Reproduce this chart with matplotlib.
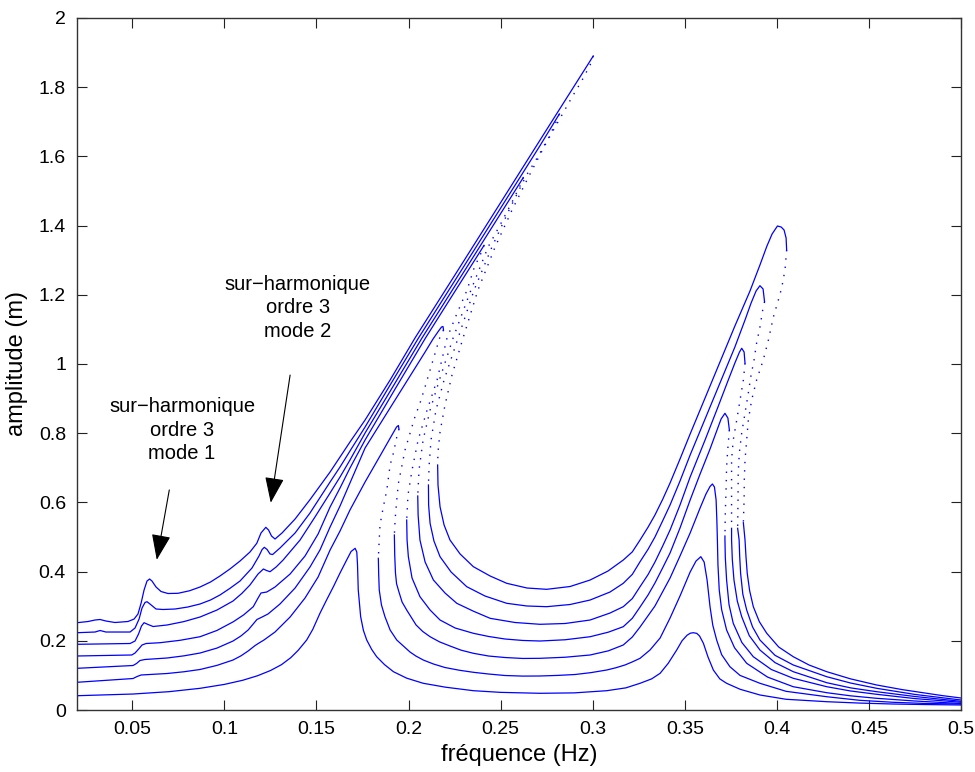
import numpy as np
import matplotlib
matplotlib.use("Agg")
import matplotlib.pyplot as plt

plt.rcParams["font.family"] = ["Liberation Sans", "DejaVu Sans"]

nan = np.nan

# axes
x_ticks = [0.05, 0.1, 0.15, 0.2, 0.25, 0.3, 0.35, 0.4, 0.45, 0.5]
x_tick_labels = ["0.05", "0.1", "0.15", "0.2", "0.25", "0.3", "0.35", "0.4", "0.45", "0.5"]
y_ticks = [0, 0.2, 0.4, 0.6, 0.8, 1.0, 1.2, 1.4, 1.6, 1.8, 2.0]
y_tick_labels = ["0", "0.2", "0.4", "0.6", "0.8", "1", "1.2", "1.4", "1.6", "1.8", "2"]

# courbe 1 (plus faible excitation) - entièrement stable
c1_f = [0.0200, 0.0504, 0.0700, 0.0868, 0.1000, 0.1100, 0.1180, 0.1250, 0.1310, 0.1360,
        0.1400, 0.1447, 0.1480, 0.1519, 0.1555, 0.1592, 0.1628, 0.1664, 0.1688, 0.1710,
        0.1719, 0.1723, 0.1727, 0.1740, 0.1755, 0.1773, 0.1800, 0.1827, 0.1870, 0.1918,
        0.1990, 0.2080, 0.2200, 0.2352, 0.2500, 0.2714, 0.2900, 0.3076, 0.3180, 0.3257,
        0.3320, 0.3366, 0.3410, 0.3456, 0.3485, 0.3512, 0.3530, 0.3546, 0.3565, 0.3580,
        0.3601, 0.3626, 0.3655, 0.3690, 0.3727, 0.3800, 0.3908, 0.4050, 0.4271, 0.4450,
        0.4632, 0.4800, 0.5000]
c1_a = [0.0413, 0.0462, 0.0530, 0.0627, 0.0740, 0.0860, 0.0990, 0.1140, 0.1310, 0.1510,
        0.1720, 0.2023, 0.2330, 0.2795, 0.3180, 0.3564, 0.3960, 0.4335, 0.4581, 0.4673,
        0.4566, 0.4191, 0.3468, 0.2697, 0.2300, 0.2023, 0.1750, 0.1540, 0.1310, 0.1107,
        0.0920, 0.0772, 0.0660, 0.0558, 0.0510, 0.0483, 0.0495, 0.0558, 0.0640, 0.0772,
        0.0900, 0.1061, 0.1350, 0.1734, 0.2000, 0.2160, 0.2220, 0.2234, 0.2215, 0.2140,
        0.1928, 0.1532, 0.1156, 0.0900, 0.0772, 0.0600, 0.0434, 0.0310, 0.0240, 0.0200,
        0.0173, 0.0158, 0.0145]

# courbe 2
c2_f = [0.0200, 0.0504, 0.0526, 0.0548, 0.0689, 0.0780, 0.0868, 0.0960, 0.1047, 0.1090,
        0.1129, 0.1167, 0.1188, 0.1215, 0.1275, 0.1357, 0.1438, 0.1509, 0.1574, 0.1628,
        0.1682, 0.1764, 0.1845, 0.1910, 0.1935, 0.1945, 0.1948, nan,
        0.1836, 0.1838, 0.1841, 0.1853, 0.1872, 0.1900, 0.1936, 0.2008, 0.2040, 0.2080,
        0.2135, 0.2198, 0.2275, 0.2352, 0.2435, 0.2524, 0.2620, 0.2714, 0.2810, 0.2904,
        0.2990, 0.3076, 0.3125, 0.3175, 0.3215, 0.3257, 0.3311, 0.3366, 0.3420, 0.3474,
        0.3529, 0.3561, 0.3587, 0.3605, 0.3621, 0.3637, 0.3652, 0.3673, 0.3700, 0.3745,
        0.3800, 0.3908, 0.4050, 0.4271, 0.4450, 0.4632, 0.4800, 0.5000]
c2_a = [0.0801, 0.0910, 0.0968, 0.1012, 0.1055, 0.1105, 0.1171, 0.1290, 0.1445, 0.1565,
        0.1705, 0.1864, 0.1936, 0.2023, 0.2254, 0.2688, 0.3237, 0.3844, 0.4624, 0.5173,
        0.5780, 0.6590, 0.7341, 0.7948, 0.8179, 0.8223, 0.8121, nan,
        0.4384, 0.3902, 0.3468, 0.3035, 0.2697, 0.2312, 0.2023, 0.1676, 0.1560, 0.1445,
        0.1330, 0.1228, 0.1150, 0.1090, 0.1040, 0.0997, 0.0980, 0.0983, 0.1000, 0.1026,
        0.1080, 0.1156, 0.1220, 0.1301, 0.1390, 0.1494, 0.1734, 0.2081, 0.2659, 0.3295,
        0.3988, 0.4306, 0.4431, 0.4277, 0.3757, 0.2986, 0.2450, 0.2023, 0.1600, 0.1251,
        0.1000, 0.0772, 0.0540, 0.0384, 0.0280, 0.0223, 0.0190, 0.0173]
c2_uf = [0.1948, 0.1936, 0.1918, 0.1900, 0.1882, 0.1863, 0.1845, 0.1840, 0.1836]
c2_ua = [0.8121, 0.7890, 0.7428, 0.7081, 0.6358, 0.5867, 0.5347, 0.4827, 0.4384]

# courbe 3
c3_f = [0.0200, 0.0504, 0.0523, 0.0542, 0.0569, 0.0689, 0.0780, 0.0868, 0.0960, 0.1047,
        0.1090, 0.1129, 0.1161, 0.1177, 0.1205, 0.1237, 0.1302, 0.1384, 0.1465, 0.1519,
        0.1574, 0.1628, 0.1682, 0.1764, 0.1954, 0.2090, 0.2133, 0.2163, 0.2179, 0.2187,
        0.2190, nan,
        0.1923, 0.1925, 0.1929, 0.1935, 0.1948, 0.1965, 0.1990, 0.2041, 0.2077, 0.2117,
        0.2168, 0.2225, 0.2285, 0.2352, 0.2435, 0.2524, 0.2620, 0.2714, 0.2850, 0.2986,
        0.3085, 0.3166, 0.3215, 0.3257, 0.3338, 0.3420, 0.3474, 0.3529, 0.3583, 0.3615,
        0.3637, 0.3650, 0.3661, 0.3670, 0.3674, 0.3677, 0.3680, 0.3687, 0.3700, 0.3727,
        0.3770, 0.3836, 0.3950, 0.4089, 0.4271, 0.4400, 0.4542, 0.4750, 0.5000]
c3_a = [0.1205, 0.1286, 0.1344, 0.1431, 0.1460, 0.1503, 0.1565, 0.1647, 0.1790, 0.1994,
        0.2140, 0.2312, 0.2514, 0.2616, 0.2688, 0.2775, 0.3064, 0.3526, 0.4133, 0.4624,
        0.5289, 0.5896, 0.6561, 0.7572, 0.9191, 1.0347, 1.0723, 1.0954, 1.1069, 1.1084,
        1.0983, nan,
        0.5058, 0.4480, 0.3960, 0.3650, 0.3410, 0.3120, 0.2890, 0.2457, 0.2270, 0.2118,
        0.1970, 0.1850, 0.1730, 0.1639, 0.1560, 0.1517, 0.1490, 0.1494, 0.1525, 0.1590,
        0.1710, 0.1879, 0.2110, 0.2399, 0.3006, 0.3815, 0.4451, 0.5116, 0.5838, 0.6243,
        0.6460, 0.6532, 0.6445, 0.6069, 0.5491, 0.4913, 0.4200, 0.3468, 0.2900, 0.2312,
        0.1800, 0.1350, 0.0950, 0.0673, 0.0500, 0.0410, 0.0338, 0.0260, 0.0188]
c3_uf = [0.2190, 0.2171, 0.2144, 0.2117, 0.2090, 0.2062, 0.2035, 0.2008, 0.1981, 0.1963,
         0.1945, 0.1936, 0.1927, 0.1923]
c3_ua = [1.0983, 1.0789, 1.0309, 0.9827, 0.9344, 0.8864, 0.8477, 0.7997, 0.7514, 0.7032,
         0.6552, 0.6069, 0.5491, 0.5058]

# courbe 4
c4_f = [0.0200, 0.0497, 0.0515, 0.0537, 0.0553, 0.0575, 0.0651, 0.0760, 0.0868, 0.0960,
        0.1049, 0.1105, 0.1157, 0.1183, 0.1199, 0.1230, 0.1253, 0.1275, 0.1357, 0.1438,
        0.1509, 0.1574, 0.1628, 0.1682, 0.1764, 0.1927, 0.2092, 0.2225, 0.2410, nan,
        0.1990, 0.1992, 0.1999, 0.2019, 0.2062, 0.2117, 0.2171, 0.2253, 0.2352, 0.2435,
        0.2524, 0.2620, 0.2714, 0.2850, 0.2986, 0.3085, 0.3166, 0.3215, 0.3257, 0.3300,
        0.3338, 0.3380, 0.3420, 0.3474, 0.3529, 0.3583, 0.3637, 0.3675, 0.3697, 0.3718,
        0.3734, 0.3742, nan,
        0.3718, 0.3718, 0.3720, 0.3727, 0.3740, 0.3763, 0.3810, 0.3872, 0.3970, 0.4089,
        0.4271, 0.4400, 0.4542, 0.4750, 0.5000]
c4_a = [0.1561, 0.1590, 0.1647, 0.1777, 0.1879, 0.1922, 0.1945, 0.2015, 0.2118, 0.2300,
        0.2552, 0.2750, 0.2986, 0.3237, 0.3382, 0.3410, 0.3483, 0.3555, 0.3931, 0.4451,
        0.5087, 0.5867, 0.6416, 0.6994, 0.7803, 0.9277, 1.0751, 1.1873, 1.3428, nan,
        0.5491, 0.4913, 0.4431, 0.3815, 0.3275, 0.2890, 0.2601, 0.2370, 0.2217, 0.2125,
        0.2052, 0.2010, 0.1994, 0.2030, 0.2118, 0.2250, 0.2408, 0.2650, 0.2977, 0.3320,
        0.3671, 0.4110, 0.4538, 0.5260, 0.6069, 0.6821, 0.7543, 0.8092, 0.8410, 0.8575,
        0.8439, 0.8092, nan,
        0.5029, 0.4913, 0.4400, 0.3757, 0.3050, 0.2506, 0.1950, 0.1540, 0.1170, 0.0916,
        0.0673, 0.0550, 0.0454, 0.0330, 0.0223]
c4_uf = [0.2410, 0.2394, 0.2356, 0.2318, 0.2264, 0.2209, 0.2155, 0.2101, 0.2052, 0.2019,
         0.1997, 0.1990, nan,
         0.3742, 0.3733, 0.3727, 0.3724, 0.3720, 0.3718]
c4_ua = [1.3428, 1.3208, 1.2775, 1.2139, 1.1474, 1.0751, 0.9538, 0.8671, 0.7803, 0.6936,
         0.6214, 0.5491, nan,
         0.8092, 0.7514, 0.7023, 0.6358, 0.5694, 0.5029]

# courbe 5
c5_f = [0.0200, 0.0488, 0.0515, 0.0534, 0.0550, 0.0564, 0.0586, 0.0613, 0.0689, 0.0780,
        0.0868, 0.0960, 0.1047, 0.1095, 0.1139, 0.1183, 0.1212, 0.1229, 0.1248, 0.1281,
        0.1319, 0.1411, 0.1492, 0.1574, 0.1628, 0.1682, 0.1764, 0.1927, 0.2073, 0.2280,
        0.2497, 0.2623, nan,
        0.2050, 0.2052, 0.2062, 0.2090, 0.2135, 0.2198, 0.2262, 0.2350, 0.2443, 0.2578,
        0.2714, 0.2850, 0.2986, 0.3094, 0.3166, 0.3215, 0.3257, 0.3300, 0.3338, 0.3380,
        0.3420, 0.3474, 0.3529, 0.3610, 0.3680, 0.3734, 0.3772, 0.3797, 0.3809, 0.3822,
        0.3827, nan,
        0.3754, 0.3754, 0.3758, 0.3767, 0.3785, 0.3809, 0.3850, 0.3908, 0.3990, 0.4089,
        0.4271, 0.4400, 0.4542, 0.4750, 0.5000]
c5_a = [0.1899, 0.1922, 0.1994, 0.2197, 0.2428, 0.2523, 0.2471, 0.2413, 0.2457, 0.2555,
        0.2688, 0.2890, 0.3150, 0.3370, 0.3613, 0.3931, 0.4075, 0.4032, 0.3997, 0.4133,
        0.4335, 0.4913, 0.5578, 0.6272, 0.6734, 0.7225, 0.8006, 0.9451, 1.0751, 1.2491,
        1.4321, 1.5387, nan,
        0.6185, 0.5636, 0.4913, 0.4277, 0.3757, 0.3382, 0.3084, 0.2861, 0.2650, 0.2529,
        0.2477, 0.2500, 0.2601, 0.2803, 0.2986, 0.3220, 0.3564, 0.3910, 0.4277, 0.4740,
        0.5202, 0.5925, 0.6734, 0.7803, 0.8757, 0.9509, 1.0029, 1.0347, 1.0454, 1.0347,
        1.0020, nan,
        0.5251, 0.4913, 0.4350, 0.3757, 0.3150, 0.2697, 0.2150, 0.1734, 0.1370, 0.1107,
        0.0789, 0.0640, 0.0529, 0.0390, 0.0251]
c5_uf = [0.2623, 0.2605, 0.2562, 0.2497, 0.2432, 0.2339, 0.2242, 0.2171, 0.2117, 0.2079,
         0.2057, 0.2050, nan,
         0.3827, 0.3818, 0.3800, 0.3782, 0.3763, 0.3754, 0.3754, 0.3754]
c5_ua = [1.5387, 1.5145, 1.4682, 1.4017, 1.3382, 1.2139, 1.0751, 0.9595, 0.8671, 0.7803,
         0.6936, 0.6185, nan,
         1.0020, 0.9538, 0.8960, 0.8381, 0.7803, 0.7225, 0.6561, 0.5251]

# courbe 6
c6_f = [0.0200, 0.0298, 0.0325, 0.0357, 0.0488, 0.0515, 0.0537, 0.0553, 0.0569, 0.0580,
        0.0596, 0.0629, 0.0667, 0.0732, 0.0800, 0.0868, 0.0925, 0.0976, 0.1030, 0.1085,
        0.1150, 0.1188, 0.1205, 0.1217, 0.1232, 0.1248, 0.1262, 0.1302, 0.1384, 0.1465,
        0.1574, 0.1628, 0.1682, 0.1764, 0.1900, 0.2054, 0.2280, 0.2497, 0.2714, 0.2819, nan,
        0.2108, 0.2109, 0.2117, 0.2138, 0.2171, 0.2231, 0.2316, 0.2415, 0.2533, 0.2643,
        0.2750, 0.2877, 0.2986, 0.3094, 0.3166, 0.3215, 0.3257, 0.3300, 0.3338, 0.3380,
        0.3420, 0.3474, 0.3529, 0.3610, 0.3691, 0.3772, 0.3827, 0.3860, 0.3887, 0.3908,
        0.3925, 0.3933, nan,
        0.3787, 0.3795, 0.3798, 0.3803, 0.3815, 0.3836, 0.3868, 0.3908, 0.3990, 0.4089,
        0.4271, 0.4400, 0.4542, 0.4750, 0.5000]
c6_a = [0.2234, 0.2254, 0.2298, 0.2254, 0.2254, 0.2370, 0.2630, 0.2948, 0.3107, 0.3130,
        0.3064, 0.2919, 0.2905, 0.2919, 0.2975, 0.3064, 0.3180, 0.3324, 0.3515, 0.3728,
        0.4104, 0.4451, 0.4639, 0.4702, 0.4639, 0.4509, 0.4494, 0.4682, 0.5116, 0.5694,
        0.6590, 0.7023, 0.7486, 0.8179, 0.9393, 1.0751, 1.2650, 1.4480, 1.6312, 1.7225, nan,
        0.6503, 0.5925, 0.5396, 0.4884, 0.4431, 0.3988, 0.3564, 0.3295, 0.3084, 0.3006,
        0.2986, 0.3049, 0.3179, 0.3410, 0.3662, 0.3920, 0.4286, 0.4640, 0.5000, 0.5470,
        0.5925, 0.6618, 0.7370, 0.8410, 0.9451, 1.0491, 1.1272, 1.1763, 1.2110, 1.2263,
        1.2168, 1.1801, nan,
        0.5251, 0.4913, 0.4450, 0.3951, 0.3350, 0.2890, 0.2400, 0.2023, 0.1580, 0.1301,
        0.0962, 0.0780, 0.0627, 0.0450, 0.0289]
c6_uf = [0.2819, 0.2801, 0.2763, 0.2698, 0.2638, 0.2546, 0.2453, 0.2356, 0.2269, 0.2193,
         0.2149, 0.2122, 0.2112, 0.2108, nan,
         0.3933, 0.3923, 0.3908, 0.3890, 0.3876, 0.3858, 0.3845, 0.3827, 0.3809, 0.3796,
         0.3790, 0.3789, 0.3787]
c6_ua = [1.7225, 1.6994, 1.6561, 1.5954, 1.5434, 1.4451, 1.3382, 1.2139, 1.0751, 0.9538,
         0.8671, 0.7803, 0.7081, 0.6503, nan,
         1.1801, 1.1561, 1.1069, 1.0607, 1.0116, 0.9624, 0.9162, 0.8584, 0.8006, 0.7428,
         0.6850, 0.6069, 0.5251]

# courbe 7 (plus forte excitation)
c7_f = [0.0200, 0.0260, 0.0298, 0.0325, 0.0357, 0.0406, 0.0477, 0.0510, 0.0531, 0.0548,
        0.0564, 0.0580, 0.0594, 0.0607, 0.0629, 0.0656, 0.0694, 0.0748, 0.0810, 0.0868,
        0.0925, 0.0976, 0.1030, 0.1085, 0.1139, 0.1176, 0.1199, 0.1225, 0.1240, 0.1256,
        0.1275, 0.1313, 0.1384, 0.1465, 0.1574, 0.1628, 0.1682, 0.1764, 0.1900, 0.2035,
        0.2280, 0.2497, 0.2768, 0.3003, nan,
        0.2158, 0.2160, 0.2171, 0.2193, 0.2225, 0.2280, 0.2352, 0.2443, 0.2533, 0.2643,
        0.2750, 0.2877, 0.2986, 0.3083, 0.3166, 0.3215, 0.3257, 0.3300, 0.3338, 0.3380,
        0.3420, 0.3474, 0.3529, 0.3610, 0.3691, 0.3772, 0.3854, 0.3908, 0.3946, 0.3974,
        0.4003, 0.4023, 0.4039, 0.4050, 0.4053, nan,
        0.3818, 0.3827, 0.3832, 0.3839, 0.3852, 0.3872, 0.3905, 0.3945, 0.4010, 0.4089,
        0.4175, 0.4271, 0.4400, 0.4542, 0.4680, 0.4814, 0.4900, 0.5000]
c7_a = [0.2523, 0.2558, 0.2601, 0.2616, 0.2572, 0.2529, 0.2558, 0.2630, 0.2775, 0.3092,
        0.3468, 0.3728, 0.3786, 0.3728, 0.3555, 0.3425, 0.3367, 0.3373, 0.3445, 0.3555,
        0.3700, 0.3873, 0.4075, 0.4306, 0.4566, 0.4818, 0.5116, 0.5280, 0.5202, 0.5029,
        0.4942, 0.5116, 0.5520, 0.6080, 0.6879, 0.7312, 0.7746, 0.8381, 0.9538, 1.0751,
        1.2809, 1.4639, 1.6927, 1.8902, nan,
        0.7081, 0.6503, 0.5876, 0.5347, 0.4913, 0.4509, 0.4142, 0.3873, 0.3662, 0.3526,
        0.3488, 0.3569, 0.3757, 0.4017, 0.4335, 0.4570, 0.4913, 0.5280, 0.5636, 0.6090,
        0.6561, 0.7254, 0.7977, 0.9017, 1.0058, 1.1098, 1.2110, 1.2861, 1.3410, 1.3757,
        1.3988, 1.3960, 1.3873, 1.3642, 1.3295, nan,
        0.5413, 0.4913, 0.4450, 0.3951, 0.3450, 0.2986, 0.2550, 0.2217, 0.1820, 0.1540,
        0.1300, 0.1107, 0.0900, 0.0723, 0.0590, 0.0483, 0.0415, 0.0347]
c7_uf = [0.3003, 0.2986, 0.2940, 0.2888, 0.2839, 0.2747, 0.2654, 0.2562, 0.2470, 0.2377,
         0.2296, 0.2236, 0.2198, 0.2171, 0.2160, 0.2158, nan,
         0.4053, 0.4044, 0.4026, 0.4008, 0.3981, 0.3954, 0.3926, 0.3890, 0.3863, 0.3845,
         0.3836, 0.3827, 0.3823, 0.3822, 0.3818]
c7_ua = [1.8902, 1.8642, 1.8179, 1.7717, 1.7254, 1.6387, 1.5434, 1.4451, 1.3382, 1.2139,
         1.0751, 0.9682, 0.8815, 0.8034, 0.7457, 0.7081, nan,
         1.3295, 1.2717, 1.2197, 1.1850, 1.1358, 1.0694, 1.0116, 0.9538, 0.8960, 0.8381,
         0.7803, 0.7225, 0.6647, 0.6069, 0.5413]

stable = [(c1_f, c1_a), (c2_f, c2_a), (c3_f, c3_a), (c4_f, c4_a),
          (c5_f, c5_a), (c6_f, c6_a), (c7_f, c7_a)]
unstable = [(c2_uf, c2_ua), (c3_uf, c3_ua), (c4_uf, c4_ua),
            (c5_uf, c5_ua), (c6_uf, c6_ua), (c7_uf, c7_ua)]

# annotations : texte (f, a) et flèches (départ -> pointe)
note_text = ["sur\u2212harmonique\nordre 3\nmode 1", "sur\u2212harmonique\nordre 3\nmode 2"]
note_pos = [(0.0770, 0.809), (0.1399, 1.162)]
arrow_tail = [(0.0701, 0.636), (0.1357, 0.968)]
arrow_head = [(0.0633, 0.434), (0.1252, 0.599)]

fig = plt.figure(figsize=(9.75, 7.72), dpi=100)
ax = fig.add_axes([0.079, 0.0803, 0.9067, 0.8964])

for f, a in stable:
    ax.plot(f, a, color="blue", lw=0.9)
for f, a in unstable:
    ax.plot(f, a, color="blue", lw=1.0, linestyle=(0, (1, 5)))

for txt, (tx, ty) in zip(note_text, note_pos):
    ax.text(tx, ty, txt, ha="center", va="center", fontsize=14.5, linespacing=1.3)
for (x0, y0), (x1, y1) in zip(arrow_tail, arrow_head):
    ax.annotate("", xy=(x1, y1), xytext=(x0, y0),
                arrowprops=dict(arrowstyle="-|>,head_length=0.8,head_width=0.3",
                                color="black", lw=0.8, mutation_scale=20,
                                shrinkA=0, shrinkB=0))

ax.set_xlim(0.02, 0.5)
ax.set_ylim(0, 2)
ax.set_xticks(x_ticks)
ax.set_xticklabels(x_tick_labels)
ax.set_yticks(y_ticks)
ax.set_yticklabels(y_tick_labels)
ax.tick_params(direction="in", length=7, width=0.8, top=True, right=True,
               labelsize=14, pad=8, colors="#222222", labelcolor="black")
for s in ax.spines.values():
    s.set_linewidth(1.0)
    s.set_color("#333333")

ax.set_xlabel("fréquence (Hz)", fontsize=17, labelpad=4)
ax.set_ylabel("amplitude (m)", fontsize=17, labelpad=8)

fig.savefig("out.png", dpi=100)
